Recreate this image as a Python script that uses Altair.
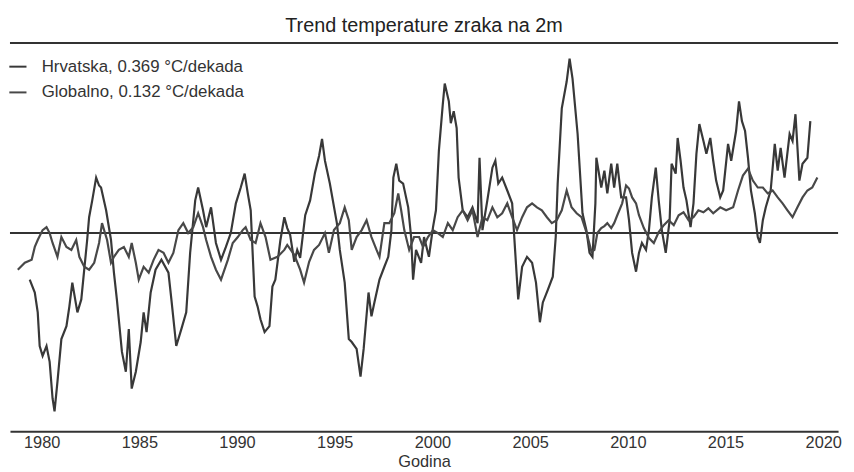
import altair as alt
import pandas as pd

# ---- data (decimal year, anomaly in chart units) ----
hr_year = [1979.39, 1979.65, 1979.80, 1979.90, 1980.05, 1980.25, 1980.41, 1980.56, 1980.66, 1980.81,
           1981.01, 1981.27, 1981.42, 1981.57, 1981.83, 1982.03, 1982.18, 1982.33, 1982.43, 1982.59,
           1982.79, 1982.94, 1983.04, 1983.30, 1983.55, 1983.70, 1983.85, 1984.11, 1984.31, 1984.46,
           1984.61, 1984.82, 1985.07, 1985.22, 1985.37, 1985.58, 1985.83, 1986.13, 1986.49, 1986.64,
           1986.89, 1987.15, 1987.40, 1987.60, 1987.86, 1988.01, 1988.26, 1988.42, 1988.67, 1988.92,
           1989.18, 1989.43, 1989.68, 1989.94, 1990.19, 1990.39, 1990.55, 1990.70, 1990.90, 1991.05,
           1991.20, 1991.41, 1991.66, 1991.81, 1991.96, 1992.22, 1992.42, 1992.57, 1992.72, 1992.93,
           1993.08, 1993.23, 1993.49, 1993.74, 1993.99, 1994.20, 1994.35, 1994.50, 1994.75, 1995.11,
           1995.26, 1995.51, 1995.72, 1995.87, 1996.12, 1996.32, 1996.48, 1996.73, 1996.88, 1997.03,
           1997.29, 1997.54, 1997.74, 1997.90, 1998.00, 1998.15, 1998.30, 1998.50, 1998.76, 1998.91,
           1999.01, 1999.16, 1999.42, 1999.57, 1999.82, 2000.03, 2000.18, 2000.33, 2000.53, 2000.63,
           2000.84, 2000.94, 2001.09, 2001.24, 2001.34, 2001.55, 2001.80, 2002.05, 2002.31, 2002.41,
           2002.56, 2002.81, 2003.07, 2003.22, 2003.37, 2003.57, 2003.83, 2004.08, 2004.23, 2004.39,
           2004.59, 2004.84, 2005.10, 2005.30, 2005.50, 2005.65, 2005.91, 2006.16, 2006.31, 2006.41,
           2006.62, 2006.87, 2007.02, 2007.17, 2007.43, 2007.68, 2007.88, 2008.04, 2008.19, 2008.34,
           2008.39, 2008.64, 2008.80, 2008.95, 2009.15, 2009.30, 2009.46, 2009.66, 2009.91, 2010.06,
           2010.22, 2010.42, 2010.57, 2010.72, 2010.93, 2011.08, 2011.23, 2011.43, 2011.58, 2011.74,
           2011.94, 2012.14, 2012.24, 2012.45, 2012.55, 2012.70, 2012.85, 2013.00, 2013.21, 2013.36,
           2013.51, 2013.66, 2013.87, 2014.02, 2014.22, 2014.37, 2014.52, 2014.73, 2014.88, 2015.13,
           2015.29, 2015.54, 2015.69, 2015.84, 2016.00, 2016.15, 2016.30, 2016.50, 2016.65, 2016.76,
           2016.91, 2017.06, 2017.31, 2017.52, 2017.67, 2017.82, 2018.02, 2018.28, 2018.43, 2018.58,
           2018.78, 2018.94, 2019.19, 2019.34]
hr_val = [-0.47, -0.60, -0.80, -1.14, -1.24, -1.14, -1.30, -1.67, -1.80, -1.50,
          -1.07, -0.94, -0.74, -0.50, -0.80, -0.67, -0.37, -0.07, 0.16, 0.33,
          0.56, 0.48, 0.46, 0.23, -0.07, -0.40, -0.67, -1.20, -1.40, -0.97,
          -1.57, -1.40, -1.10, -0.80, -1.00, -0.60, -0.37, -0.27, -0.40, -0.67,
          -1.14, -0.97, -0.80, -0.20, 0.33, 0.46, 0.23, 0.06, 0.26, -0.10,
          -0.27, -0.14, 0.00, 0.30, 0.46, 0.60, 0.40, 0.23, -0.64, -0.74,
          -0.87, -1.00, -0.94, -0.54, -0.47, -0.07, 0.16, 0.05, -0.02, -0.29,
          -0.17, -0.25, 0.18, 0.33, 0.61, 0.78, 0.95, 0.73, 0.50, 0.10,
          -0.17, -0.50, -1.07, -1.10, -1.17, -1.45, -1.17, -0.60, -0.84, -0.70,
          -0.47, -0.34, -0.24, 0.03, 0.56, 0.70, 0.53, 0.50, 0.26, -0.04,
          -0.47, -0.17, -0.30, -0.04, -0.24, 0.06, 0.23, 0.83, 1.30, 1.51,
          1.33, 1.11, 1.23, 1.06, 0.56, 0.23, 0.16, 0.26, 0.10, 0.76,
          0.03, 0.33, 0.66, 0.73, 0.50, 0.56, 0.43, 0.30, -0.17, -0.67,
          -0.34, -0.24, -0.30, -0.50, -0.90, -0.70, -0.57, -0.44, -0.04, 0.50,
          1.26, 1.53, 1.76, 1.56, 1.00, 0.20, 0.03, -0.20, -0.24, 0.30,
          0.76, 0.46, 0.63, 0.40, 0.70, 0.46, 0.70, 0.36, 0.36, 0.13,
          -0.20, -0.39, -0.20, -0.10, -0.17, 0.03, 0.36, 0.66, 0.33, 0.03,
          -0.20, 0.13, 0.70, 0.60, 0.96, 0.73, 0.46, 0.33, 0.06, 0.30,
          0.80, 1.10, 0.93, 0.80, 0.96, 0.73, 0.53, 0.36, 0.43, 0.90,
          0.73, 1.03, 1.33, 1.13, 1.03, 0.76, 0.43, 0.20, -0.04, -0.10,
          0.13, 0.26, 0.43, 0.90, 0.63, 0.86, 0.56, 1.00, 0.93, 1.20,
          0.53, 0.70, 0.76, 1.13]

gl_year = [1978.78, 1979.14, 1979.49, 1979.65, 1979.80, 1980.05, 1980.25, 1980.41, 1980.56, 1980.81,
           1981.01, 1981.27, 1981.52, 1981.77, 1981.93, 1982.18, 1982.43, 1982.69, 1982.94, 1983.09,
           1983.35, 1983.55, 1983.70, 1983.95, 1984.21, 1984.46, 1984.61, 1984.82, 1984.97, 1985.22,
           1985.48, 1985.73, 1985.98, 1986.24, 1986.49, 1986.74, 1987.00, 1987.25, 1987.50, 1987.76,
           1988.01, 1988.26, 1988.42, 1988.67, 1988.92, 1989.18, 1989.53, 1989.78, 1990.04, 1990.29,
           1990.44, 1990.70, 1990.95, 1991.20, 1991.46, 1991.71, 1992.07, 1992.42, 1992.57, 1992.93,
           1993.23, 1993.43, 1993.69, 1993.94, 1994.20, 1994.50, 1994.70, 1994.96, 1995.26, 1995.51,
           1995.72, 1995.87, 1996.12, 1996.38, 1996.63, 1996.88, 1997.14, 1997.29, 1997.54, 1997.79,
           1998.05, 1998.25, 1998.40, 1998.56, 1998.81, 1999.06, 1999.32, 1999.52, 1999.77, 2000.03,
           2000.28, 2000.53, 2000.79, 2001.04, 2001.29, 2001.55, 2001.80, 2002.05, 2002.31, 2002.56,
           2002.81, 2003.07, 2003.32, 2003.57, 2003.83, 2004.08, 2004.33, 2004.59, 2004.84, 2005.10,
           2005.35, 2005.60, 2005.86, 2006.11, 2006.36, 2006.62, 2006.87, 2007.12, 2007.38, 2007.63,
           2007.88, 2008.14, 2008.29, 2008.44, 2008.64, 2008.80, 2008.95, 2009.15, 2009.30, 2009.46,
           2009.71, 2009.91, 2010.06, 2010.22, 2010.42, 2010.57, 2010.82, 2011.08, 2011.33, 2011.58,
           2011.84, 2012.09, 2012.35, 2012.60, 2012.85, 2013.11, 2013.36, 2013.61, 2013.87, 2014.12,
           2014.37, 2014.73, 2015.03, 2015.39, 2015.64, 2015.89, 2016.15, 2016.40, 2016.65, 2016.91,
           2017.16, 2017.41, 2017.67, 2017.92, 2018.17, 2018.43, 2018.68, 2018.94, 2019.19, 2019.44,
           2019.70]
gl_val = [-0.37, -0.30, -0.27, -0.14, -0.07, 0.03, 0.06, 0.00, -0.10, -0.24,
          -0.04, -0.14, -0.17, -0.07, -0.24, -0.34, -0.37, -0.30, -0.10, 0.10,
          -0.07, -0.30, -0.24, -0.17, -0.14, -0.24, -0.10, -0.30, -0.47, -0.34,
          -0.40, -0.27, -0.17, -0.20, -0.30, -0.20, 0.03, 0.10, 0.00, 0.06,
          0.20, 0.06, -0.07, -0.24, -0.37, -0.47, -0.27, -0.10, -0.04, 0.03,
          0.06, -0.07, -0.10, 0.10, -0.04, -0.27, -0.24, -0.17, -0.12, -0.22,
          -0.37, -0.50, -0.29, -0.17, -0.12, 0.00, -0.20, 0.03, 0.10, 0.26,
          0.13, -0.17, -0.04, 0.03, 0.13, -0.04, -0.17, -0.24, 0.10, 0.10,
          0.20, 0.40, 0.23, 0.03, -0.17, -0.04, -0.04, -0.14, -0.04, 0.03,
          0.00, -0.04, 0.10, 0.03, 0.16, 0.23, 0.13, 0.23, -0.04, 0.16,
          0.13, 0.26, 0.16, 0.20, 0.30, 0.16, 0.03, 0.16, 0.26, 0.30,
          0.26, 0.23, 0.16, 0.10, 0.13, 0.23, 0.43, 0.26, 0.20, 0.16,
          0.01, -0.19, -0.17, 0.00, 0.05, 0.07, 0.10, 0.05, 0.10, 0.18,
          0.30, 0.48, 0.45, 0.36, 0.30, 0.18, 0.05, -0.05, -0.10, 0.01,
          0.08, 0.13, 0.08, 0.18, 0.21, 0.13, 0.16, 0.23, 0.21, 0.25,
          0.20, 0.26, 0.23, 0.26, 0.43, 0.58, 0.65, 0.53, 0.46, 0.46,
          0.40, 0.43, 0.36, 0.30, 0.23, 0.16, 0.26, 0.36, 0.43, 0.46,
          0.56]

series_names = ["Hrvatska, 0.369 °C/dekada", "Globalno, 0.132 °C/dekada"]
tick_years = [1980, 1985, 1990, 1995, 2000, 2005, 2010, 2015, 2020]
ref_levels = [0.0, 1.92]   # zero line and the frame line along the top

df = pd.concat([
    pd.DataFrame({"year": hr_year, "value": hr_val, "series": series_names[0]}),
    pd.DataFrame({"year": gl_year, "value": gl_val, "series": series_names[1]}),
], ignore_index=True)

FONT = "Liberation Sans"
INK = "#333333"

x_scale = alt.Scale(domain=[1978.38, 2020.76], nice=False, zero=False)
y_scale = alt.Scale(domain=[-2.0, 1.92], nice=False, zero=False)

lines = alt.Chart(df).mark_line(strokeWidth=2.2).encode(
    x=alt.X("year:Q", scale=x_scale,
            axis=alt.Axis(values=tick_years, format="d", title="Godina", grid=False,
                          ticks=False, domainColor=INK, domainWidth=2,
                          labelFont=FONT, labelFontSize=16.5, labelColor=INK,
                          labelPadding=3, labelFlush=False,
                          titleFont=FONT, titleFontSize=16.5, titleFontWeight="normal",
                          titleColor=INK, titlePadding=3)),
    y=alt.Y("value:Q", scale=y_scale, axis=None),
    color=alt.Color("series:N",
                    scale=alt.Scale(domain=series_names, range=["#383838", "#484848"]),
                    legend=alt.Legend(title=None, orient="none", legendX=-2, legendY=14,
                                      symbolType="stroke", symbolSize=300,
                                      symbolStrokeWidth=2, labelFont=FONT,
                                      labelFontSize=17, labelColor=INK, labelOffset=14,
                                      labelLimit=0, rowPadding=8)),
)

rules = alt.Chart(pd.DataFrame({"value": ref_levels})).mark_rule(
    color=INK, strokeWidth=2).encode(y=alt.Y("value:Q", scale=y_scale, axis=None))

chart = alt.layer(rules, lines).properties(
    width=836, height=392,
    title=alt.TitleParams("Trend temperature zraka na 2m", font=FONT, fontSize=20,
                          fontWeight="normal", color="#222222", anchor="middle",
                          offset=6),
    autosize=alt.AutoSizeParams(type="none"),
    padding={"left": 2, "top": 33, "right": 8, "bottom": 40},
).configure_view(stroke=None)

chart.save("out.html", embed_options={"renderer": "svg", "actions": False})
